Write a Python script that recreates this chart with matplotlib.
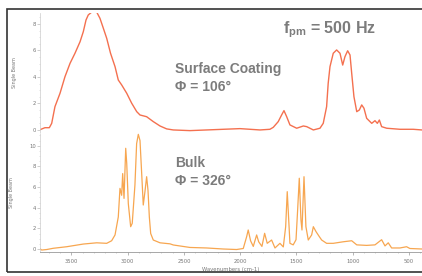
import numpy as np
import matplotlib
matplotlib.use("Agg")
import matplotlib.pyplot as plt
from matplotlib.patches import Rectangle
from matplotlib.ticker import MultipleLocator

# Surface coating spectrum
top_wn = [3786, 3736, 3697, 3676, 3647, 3602, 3558, 3513, 3469, 3424,
          3395, 3371, 3351, 3320, 3276, 3247, 3217, 3187, 3153, 3113,
          3084, 3054, 3009, 2965, 2920, 2891, 2832, 2773, 2713, 2654,
          2595, 2447, 2298, 2151, 2002, 1913, 1824, 1736, 1706, 1662,
          1632, 1611, 1587, 1558, 1498, 1439, 1409, 1350, 1291, 1262,
          1232, 1218, 1202, 1173, 1143, 1113, 1089, 1069, 1045, 1024,
          1009, 989, 964, 941, 920, 900, 876, 831, 802, 781,
          763, 743, 698, 580, 462, 384]
top_val = [0.0, 0.17, 0.17, 0.5, 1.76, 2.77, 4.02, 5.03, 5.79, 6.66,
           7.42, 8.3, 8.68, 8.9, 8.9, 8.43, 7.68, 6.92, 5.79, 4.78,
           3.77, 3.4, 2.77, 2.02, 1.38, 1.13, 1.0, 0.63, 0.3, 0.08,
           0.0, -0.05, 0.0, 0.05, 0.1, 0.05, 0.0, 0.05, 0.2, 0.63,
           1.13, 1.46, 1.0, 0.38, 0.13, 0.3, 0.25, 0.0, 0.13, 0.5,
           1.76, 3.52, 4.78, 5.79, 6.04, 5.79, 4.9, 5.53, 5.98, 5.66,
           4.28, 2.51, 1.38, 1.51, 1.89, 1.64, 0.88, 0.5, 0.7, 0.5,
           0.75, 0.25, 0.13, 0.05, 0.05, 0.0]

# Bulk spectrum
bot_wn = [3786, 3765, 3720, 3662, 3543, 3395, 3276, 3187, 3143, 3113,
          3084, 3069, 3054, 3045, 3033, 3018, 3009, 2995, 2974, 2960,
          2936, 2921, 2906, 2891, 2876, 2862, 2847, 2832, 2820, 2808,
          2796, 2773, 2713, 2624, 2595, 2447, 2298, 2151, 2032, 1973,
          1943, 1929, 1908, 1884, 1854, 1836, 1807, 1783, 1760, 1721,
          1691, 1647, 1617, 1596, 1582, 1558, 1529, 1504, 1491, 1475,
          1460, 1451, 1433, 1416, 1395, 1365, 1350, 1326, 1297, 1276,
          1232, 1173, 1084, 1009, 964, 876, 802, 743, 713, 684,
          654, 580, 521, 492, 384]
bot_val = [0.07, -0.1, -0.05, 0.07, 0.22, 0.48, 0.6, 0.55, 0.8, 1.36,
           3.1, 5.87, 5.2, 7.3, 4.9, 9.75, 8.3, 4.4, 2.16, 2.49,
           6.2, 10.2, 11.1, 10.5, 7.3, 4.26, 5.55, 7.0, 5.7, 3.1,
           1.5, 0.87, 0.6, 0.5, 0.39, 0.15, 0.1, 0.0, -0.05, 0.05,
           1.19, 1.84, 0.8, 0.25, 1.36, 0.7, 0.25, 1.52, 0.55, 0.87,
           0.1, 0.55, 0.2, 2.16, 5.55, 0.55, 0.4, 0.9, 3.5, 6.85,
           2.8, 1.84, 7.0, 2.16, 0.87, 1.36, 2.16, 1.68, 1.2, 0.87,
           0.55, 0.55, 0.7, 0.8, 0.4, 0.35, 0.4, 0.9, 0.3, 0.6,
           0.1, 0.1, 0.22, 0.05, 0.0]

x_ticks = [3500, 3000, 2500, 2000, 1500, 1000, 500]
top_yticks = [0, 2, 4, 6, 8]
bot_yticks = [0, 2, 4, 6, 8, 10]

red = '#f4704f'
orange = '#f7a650'
txt_gray = '#7c7c7c'
bold_font = ['Liberation Sans Narrow', 'Liberation Sans', 'DejaVu Sans']

fig = plt.figure(figsize=(4.22, 2.76), dpi=100)
W, H = 422, 276

def box(x0, y0, x1, y1):
    return [x0 / W, 1 - y1 / H, (x1 - x0) / W, (y1 - y0) / H]

ax_top = fig.add_axes(box(40, 13, 422, 133))
ax_bot = fig.add_axes(box(40, 133, 422, 252))

for ax in (ax_top, ax_bot):
    ax.set_xlim(3780, 384)
    for s in ('top', 'right'):
        ax.spines[s].set_visible(False)
    ax.spines['left'].set_color('#cccccc')
    ax.spines['left'].set_linewidth(0.5)
    ax.spines['left'].set_linestyle((0, (1, 1)))
    ax.spines['bottom'].set_color('#dddddd')
    ax.spines['bottom'].set_linewidth(0.6)
    ax.yaxis.set_minor_locator(MultipleLocator(0.5))
    ax.tick_params(axis='y', which='major', labelsize=3.8, labelcolor='#777777',
                   color='#bbbbbb', length=2, width=0.5, pad=1)
    ax.tick_params(axis='y', which='minor', color='#cccccc', length=1, width=0.4)
    ax.set_ylabel('Single Beam', fontsize=3.5, color='#777777', labelpad=11)

ax_top.plot(top_wn, top_val, color=red, lw=1.0)
ax_top.set_ylim(-0.23, 8.83)
ax_top.set_yticks(top_yticks)
ax_top.set_xticks([])

ax_bot.plot(bot_wn, bot_val, color=orange, lw=0.9)
ax_bot.set_ylim(-0.29, 11.23)
ax_bot.set_yticks(bot_yticks)
ax_bot.set_xticks(x_ticks)
ax_bot.xaxis.set_minor_locator(MultipleLocator(100))
ax_bot.spines['bottom'].set_color('#999999')
ax_bot.tick_params(axis='x', which='major', labelsize=3.8, labelcolor='#777777',
                   color='#999999', length=2, width=0.5, pad=3)
ax_bot.tick_params(axis='x', which='minor', color='#aaaaaa', length=1, width=0.4)
ax_bot.set_xlabel('Wavenumbers (cm-1)', fontsize=3.8, color='#777777', labelpad=2)

# annotations
fig.text(283 / W, 1 - 30 / H, r'f$_{\mathregular{pm}}$ = 500 Hz', fontsize=11.5,
         fontweight='bold', color=txt_gray, va='center', ha='left', family=bold_font)
fig.text(175 / W, 1 - 69 / H, 'Surface Coating', fontsize=10, fontweight='bold',
         color=txt_gray, va='center', ha='left', family=bold_font)
fig.text(175 / W, 1 - 87 / H, '\u03a6 = 106\u00b0', fontsize=10, fontweight='bold',
         color=txt_gray, va='center', ha='left', family=bold_font)
fig.text(175 / W, 1 - 163 / H, 'Bulk', fontsize=10, fontweight='bold',
         color=txt_gray, va='center', ha='left', family=bold_font)
fig.text(175 / W, 1 - 181 / H, '\u03a6 = 326\u00b0', fontsize=10, fontweight='bold',
         color=txt_gray, va='center', ha='left', family=bold_font)

# outer frame
fig.patches.append(Rectangle((7 / W, 1 - 272 / H), 1.0, (272 - 9) / H,
                             transform=fig.transFigure, fill=False,
                             edgecolor='#333333', lw=1.2))

fig.savefig('out.png', dpi=100)
